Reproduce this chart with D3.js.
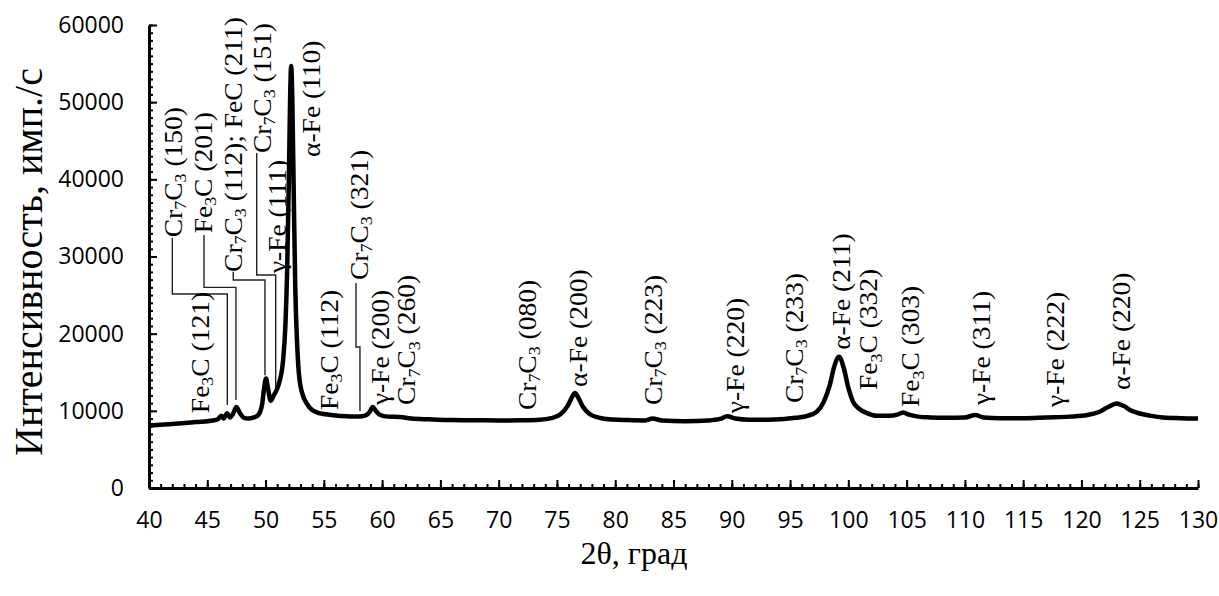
<!DOCTYPE html>
<html><head><meta charset="utf-8">
<script src="https://cdn.jsdelivr.net/npm/d3@7"></script>
<style>body{margin:0;background:#fff}</style>
</head><body><svg id="c" width="1219" height="596"></svg>
<script>
// ---- data ----
const twoTheta = [40.0,42.0,44.0,45.5,45.9,46.2,46.4,46.7,46.95,47.2,47.5,47.8,48.1,48.5,49.0,49.4,49.7,49.9,50.04,50.2,50.44,50.7,50.95,51.2,51.5,51.7,51.85,52.0,52.1,52.2,52.3,52.42,52.55,52.7,52.85,53.0,53.25,53.6,54.0,54.5,55.0,56.0,57.0,58.0,58.6,58.95,59.2,59.45,59.8,60.5,61.5,62.5,64.0,66.0,68.0,70.0,72.0,73.5,74.5,75.3,75.9,76.3,76.55,76.8,77.2,77.8,78.5,79.5,81.0,82.5,83.2,84.0,86.0,88.0,89.0,89.6,90.3,91.5,93.0,94.5,95.5,96.5,97.3,97.9,98.4,98.8,99.2,99.6,100.0,100.4,100.9,101.6,102.5,103.5,104.2,104.7,105.2,106.0,107.0,108.5,110.0,110.9,111.6,113.0,115.0,117.0,119.0,120.5,121.5,122.3,123.0,123.6,124.3,125.0,126.0,127.0,128.5,130.0];
const intensity = [8100,8300,8550,8750,8900,9350,9000,9700,9150,9600,10500,9700,9150,9000,9150,9500,10800,13200,14200,13000,11300,12000,12700,13800,16500,21000,28000,40000,50000,54700,50000,38000,26000,19000,15000,13200,11800,10800,10100,9750,9600,9400,9300,9250,9400,9900,10500,10000,9500,9250,9200,9000,8900,8800,8780,8750,8780,8850,9050,9550,10600,11800,12300,11800,10600,9600,9150,8900,8800,8750,9000,8750,8650,8750,8950,9300,9000,8850,8850,8950,9100,9350,9900,11200,13300,15800,17000,15600,13000,11200,10300,9700,9350,9350,9500,9800,9500,9250,9150,9100,9150,9450,9150,9050,9050,9150,9250,9450,9850,10500,10950,10650,10000,9650,9350,9150,9050,9000];
const xTicks = [40,45,50,55,60,65,70,75,80,85,90,95,100,105,110,115,120,125,130];
const yTicks = [0,10000,20000,30000,40000,50000,60000];
const xTitle = "2θ, град";
const yTitle = "Интенсивность, имп./с";
// peak labels: {n} = subscript
const peakLabels = ["Cr{7}C{3} (150)","Fe{3}C (201)","Cr{7}C{3} (112); FeC (211)","Cr{7}C{3} (151)","γ-Fe (111)","α-Fe (110)","Fe{3}C (121)","Fe{3}C (112)","Cr{7}C{3} (321)","γ-Fe (200)","Cr{7}C{3} (260)","Cr{7}C{3} (080)","α-Fe (200)","Cr{7}C{3} (223)","γ-Fe (220)","Cr{7}C{3} (233)","α-Fe (211)","Fe{3}C (332)","Fe{3}C (303)","γ-Fe (311)","γ-Fe (222)","α-Fe (220)"];
const labelTheta = [42.10,44.68,47.25,49.69,50.98,53.90,44.38,55.44,58.02,59.82,62.13,72.43,76.81,83.24,90.28,95.34,99.44,101.76,105.37,111.38,117.81,123.39];
const labelBase  = [32500,33000,28000,43400,27850,42900,9700,10100,26950,10750,10750,10100,13100,10750,9700,11000,17900,12700,10500,10750,10500,12700];
// leader lines (2θ, intensity)
const leaders = [
  [[42.0,32400],[42.0,25140],[46.72,25140],[46.72,10750]],
  [[44.72,32800],[44.72,26000],[47.46,26000],[47.46,11400]],
  [[47.23,28030],[47.23,26950],[49.95,26950],[49.95,14600]],
  [[49.24,43410],[49.24,27600],[50.87,27600],[50.87,12700]],
  [[57.76,26560],[57.76,18270],[58.1,18270],[58.1,9980]]
];

// ---- chart ----
const svg = d3.select('#c');
const x = d3.scaleLinear().domain([40,130]).range([149,1198]);
const y = d3.scaleLinear().domain([0,60000]).range([488,25]);
const tickFont = "'Open Sans', sans-serif";
const serif = "'Liberation Serif', 'Times New Roman', serif";

// minor ticks
const gxm = svg.append('g').attr('transform',`translate(0,${y(0)})`)
  .call(d3.axisBottom(x).tickValues(d3.range(40,131,1)).tickSize(-4).tickFormat(''));
const gym = svg.append('g').attr('transform',`translate(${x(40)},0)`)
  .call(d3.axisLeft(y).tickValues(d3.range(0,60001,1000)).tickSize(-4).tickFormat(''));
[gxm,gym].forEach(g=>{g.select('.domain').remove(); g.selectAll('line').attr('stroke','#000').attr('stroke-width',2);});

const gx = svg.append('g').attr('transform',`translate(0,${y(0)})`)
  .call(d3.axisBottom(x).tickValues(xTicks).tickSize(-8).tickSizeOuter(0).tickPadding(24).tickFormat(d3.format('d')));
const gy = svg.append('g').attr('transform',`translate(${x(40)},0)`)
  .call(d3.axisLeft(y).tickValues(yTicks).tickSize(-8).tickSizeOuter(0).tickPadding(25).tickFormat(d3.format('d')));
[gx,gy].forEach(g=>{
  g.select('.domain').attr('stroke','#000').attr('stroke-width',3);
  g.selectAll('line').attr('stroke','#000').attr('stroke-width',2);
  g.selectAll('text').attr('font-family',tickFont).attr('font-size',23).attr('fill','#000');
});

// leader lines
const lineGen = d3.line().x(d=>x(d[0])).y(d=>y(d[1]));
svg.append('g').selectAll('path').data(leaders).join('path')
  .attr('d',lineGen).attr('fill','none').attr('stroke','#222').attr('stroke-width',1.4);

// curve
const pts = twoTheta.map((t,i)=>[t,intensity[i]]);
svg.append('path').datum(pts)
  .attr('d', d3.line().x(d=>x(d[0])).y(d=>y(d[1])).curve(d3.curveMonotoneX))
  .attr('fill','none').attr('stroke','#000').attr('stroke-width',4.5).attr('stroke-linejoin','round');

// peak labels
const fs = 25;
peakLabels.forEach((str,i)=>{
  const t = svg.append('text')
    .attr('transform',`translate(${x(labelTheta[i])},${y(labelBase[i])}) rotate(-90) scale(1.1,1)`)
    .attr('font-family',serif).attr('font-size',fs).attr('dominant-baseline','central').attr('fill','#000');
  const parts = str.split(/(\{\d\})/).filter(p=>p.length);
  let sub = false;
  parts.forEach(p=>{
    const m = p.match(/^\{(\d)\}$/);
    if (m) {
      t.append('tspan').attr('font-size',fs*0.65).attr('dy',fs*0.28).text(m[1]);
      sub = true;
    } else {
      const ts = t.append('tspan').text(p);
      if (sub) { ts.attr('dy',-fs*0.28); sub = false; }
    }
  });
});

// axis titles
svg.append('text').attr('transform',`translate(28,${(62+462)/2}) rotate(-90)`)
  .attr('text-anchor','middle').attr('dominant-baseline','central')
  .attr('font-family',serif).attr('font-size',40).attr('fill','#000').text(yTitle);
svg.append('text').attr('x',634).attr('y',553)
  .attr('text-anchor','middle').attr('dominant-baseline','central')
  .attr('font-family',serif).attr('font-size',32).attr('fill','#000').text(xTitle);
</script></body></html>
